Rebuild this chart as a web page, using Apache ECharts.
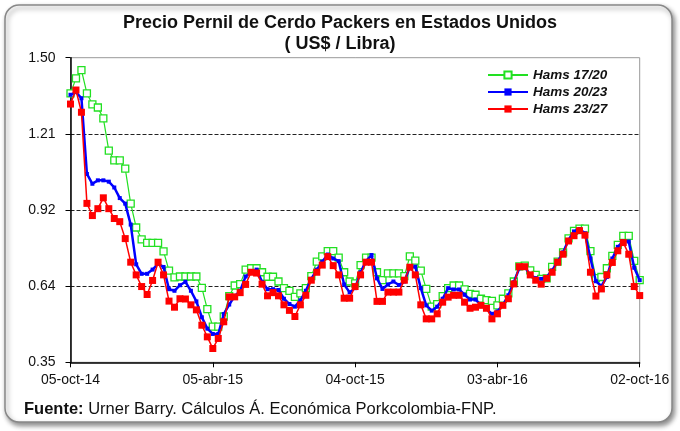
<!DOCTYPE html>
<html><head><meta charset="utf-8">
<script src="https://cdn.jsdelivr.net/npm/echarts@6/dist/echarts.min.js"></script>
<style>html,body{margin:0;padding:0;background:#fff}#c{width:680px;height:431px}</style>
</head><body><div id="c"></div>
<script>
// weekly categories from 05-oct-14 to 02-oct-16 (105 weeks)
const monthsEs = ['ene','feb','mar','abr','may','jun','jul','ago','sep','oct','nov','dic'];
const startDate = [2014, 9, 5];
const weekCount = 105;
const categories = [];
for (let i = 0; i < weekCount; i++) {
  const d = new Date(Date.UTC(startDate[0], startDate[1], startDate[2] + 7 * i));
  const dd = String(d.getUTCDate()).padStart(2, '0');
  categories.push(dd + '-' + monthsEs[d.getUTCMonth()] + '-' + String(d.getUTCFullYear()).slice(2));
}

const seriesNames = ['Hams 17/20', 'Hams 20/23', 'Hams 23/27'];

const hams1720 = [1.365,1.422,1.453,1.365,1.324,1.312,1.271,1.149,1.112,1.112,1.081,0.949,0.859,0.814,0.801,0.801,0.801,0.769,0.696,0.671,
  0.674,0.674,0.674,0.674,0.631,0.551,0.485,0.485,0.523,0.60,0.64,0.645,0.70,0.705,0.705,0.69,0.673,0.673,0.655,0.63,0.62,
  0.597,0.61,0.63,0.675,0.73,0.75,0.77,0.77,0.745,0.69,0.655,0.648,0.717,0.745,0.745,0.69,0.66,0.686,0.686,0.686,0.675,0.75,
  0.734,0.696,0.627,0.56,0.57,0.60,0.63,0.64,0.64,0.625,0.608,0.605,0.59,0.585,0.582,0.565,0.59,0.61,0.655,0.712,0.715,
  0.697,0.68,0.665,0.667,0.71,0.73,0.765,0.818,0.846,0.855,0.855,0.77,0.668,0.672,0.705,0.752,0.793,0.827,0.827,0.733,0.66];

const hams2023 = [1.36,1.37,1.347,1.061,1.024,1.037,1.037,1.032,1.010,0.97,0.949,0.87,0.72,0.684,0.684,0.70,0.722,0.71,0.626,0.62,
  0.641,0.654,0.62,0.58,0.52,0.477,0.457,0.457,0.532,0.568,0.60,0.62,0.674,0.69,0.70,0.654,0.626,0.626,0.623,0.59,0.57,
  0.56,0.584,0.62,0.665,0.70,0.73,0.757,0.742,0.732,0.644,0.614,0.63,0.69,0.732,0.755,0.667,0.627,0.644,0.655,0.642,0.655,0.71,
  0.711,0.63,0.565,0.545,0.56,0.59,0.63,0.625,0.625,0.605,0.587,0.587,0.567,0.551,0.533,0.542,0.567,0.603,0.652,0.705,0.71,
  0.68,0.668,0.665,0.672,0.697,0.73,0.765,0.812,0.844,0.853,0.837,0.742,0.656,0.638,0.672,0.742,0.786,0.808,0.806,0.707,0.66];

const hams2327 = [1.325,1.378,1.294,0.95,0.904,0.93,0.971,0.93,0.893,0.881,0.817,0.728,0.68,0.636,0.606,0.659,0.728,0.68,0.581,0.558,
  0.59,0.589,0.567,0.548,0.49,0.446,0.402,0.44,0.503,0.597,0.597,0.613,0.644,0.69,0.687,0.645,0.601,0.613,0.601,0.567,0.546,
  0.523,0.567,0.603,0.66,0.69,0.717,0.749,0.715,0.68,0.592,0.592,0.636,0.68,0.728,0.728,0.58,0.58,0.615,0.615,0.615,0.66,0.709,
  0.68,0.567,0.514,0.514,0.533,0.577,0.596,0.603,0.603,0.577,0.554,0.558,0.565,0.554,0.514,0.533,0.565,0.59,0.646,0.711,0.711,
  0.68,0.66,0.645,0.667,0.69,0.728,0.758,0.808,0.828,0.847,0.83,0.69,0.60,0.627,0.68,0.727,0.771,0.802,0.758,0.636,0.602];

const yTickLabels = ['0.35', '0.64', '0.92', '1.21', '1.50'];
const yMin = 0.35, yMax = 1.50;

const chart = echarts.init(document.getElementById('c'), null, {renderer: 'canvas'});
const FONT = '"Liberation Sans", Arial, sans-serif';
chart.setOption({
  animation: false,
  backgroundColor: '#fff',
  title: {
    text: 'Precio Pernil de Cerdo Packers en Estados Unidos\n( US$ / Libra)',
    left: 'center', top: 8,
    textStyle: {fontFamily: FONT, fontWeight: 'bold', fontSize: 18, color: '#111', lineHeight: 21}
  },
  legend: {
    orient: 'vertical', left: 482, top: 63,
    itemWidth: 40, itemHeight: 9, itemGap: 3,
    data: seriesNames,
    textStyle: {fontFamily: FONT, fontWeight: 'bold', fontStyle: 'italic', fontSize: 13.5, color: '#111', lineHeight: 13}
  },
  grid: {left: 70.5, right: 40.3, top: 57.7, bottom: 68.7, show: true, borderColor: '#999', borderWidth: 1, backgroundColor: 'transparent'},
  xAxis: {
    type: 'category', data: categories, boundaryGap: false,
    axisLine: {lineStyle: {color: '#000', width: 1.5}},
    axisTick: {interval: 25, length: 5, lineStyle: {color: '#000'}},
    axisLabel: {interval: 25, fontFamily: FONT, fontSize: 14, color: '#111', margin: 11}
  },
  yAxis: [
    {type: 'value', min: yMin, max: yMax, show: false, splitLine: {show: false}},
    {type: 'value', min: 0, max: 4, interval: 1, position: 'left',
     axisLine: {show: true, lineStyle: {color: '#000', width: 1.5}},
     axisTick: {show: true, length: 5, lineStyle: {color: '#000'}},
     axisLabel: {fontFamily: FONT, fontSize: 14, color: '#111', margin: 15, formatter: v => yTickLabels[v]},
     splitLine: {show: true, lineStyle: {color: ['transparent', '#222', '#222', '#222', 'transparent'], type: [4, 2], width: 1}}
    }
  ],
  series: [
    {name: seriesNames[0], type: 'line', yAxisIndex: 0, data: hams1720, symbol: 'rect', symbolSize: 7, showAllSymbol: true,
     lineStyle: {color: '#22e022', width: 1.2}, itemStyle: {color: '#fff', borderColor: '#22e022', borderWidth: 1.3}, z: 2},
    {name: seriesNames[1], type: 'line', yAxisIndex: 0, data: hams2023, symbol: 'rect', symbolSize: 4, showAllSymbol: true,
     lineStyle: {color: '#0000ff', width: 2.5}, itemStyle: {color: '#0000ff'}, z: 3},
    {name: seriesNames[2], type: 'line', yAxisIndex: 0, data: hams2327, symbol: 'rect', symbolSize: 7, showAllSymbol: true,
     lineStyle: {color: '#ff0000', width: 1.5}, itemStyle: {color: '#ff0000'}, z: 4}
  ],
  graphic: [
    {type: 'rect', z: -10, shape: {x: 5, y: 5, width: 667, height: 417, r: 14},
     style: {fill: '#fff', stroke: '#888', lineWidth: 1.5, shadowBlur: 5, shadowOffsetX: 2, shadowOffsetY: 3, shadowColor: 'rgba(0,0,0,0.45)'}},
    {type: 'text', left: 24, top: 401,
     style: {text: '{b|Fuente:} Urner Barry. Cálculos Á. Económica Porkcolombia-FNP.',
       font: '16.5px ' + FONT, fill: '#111',
       rich: {b: {fontWeight: 'bold', fontSize: 16.5, fontFamily: FONT, fill: '#111'}}}}
  ]
});
</script></body></html>
